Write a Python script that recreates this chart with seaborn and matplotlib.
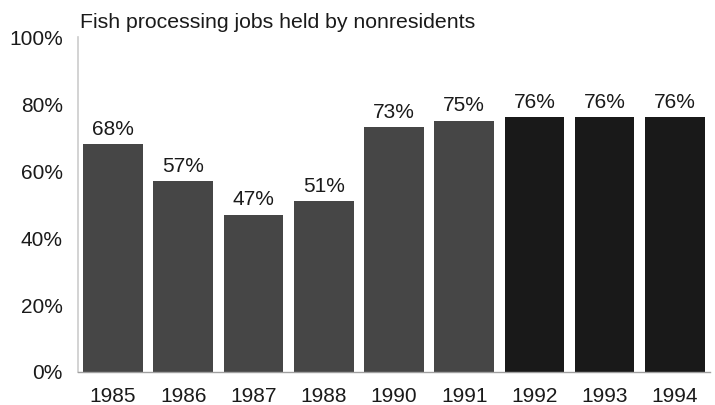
import matplotlib
matplotlib.use("Agg")
import matplotlib.pyplot as plt
import seaborn as sns
import pandas as pd

# Share of fish processing jobs held by nonresidents, by year
years = ["1985", "1986", "1987", "1988", "1990", "1991", "1992", "1993", "1994"]
shares = [68, 57, 47, 51, 73, 75, 76, 76, 76]
bar_colors = ["#464646"] * 6 + ["#191919"] * 3
y_ticks = [0, 20, 40, 60, 80, 100]
y_tick_labels = ["0%", "20%", "40%", "60%", "80%", "100%"]
title = "Fish processing jobs held by nonresidents"

sns.set_theme(style="white")
plt.rcParams["font.family"] = ["Liberation Sans", "DejaVu Sans"]

df = pd.DataFrame({"year": years, "share": shares})

fig = plt.figure(figsize=(7.15, 4.05), dpi=100)
ax = fig.add_axes([0.109, 0.0815, 0.884, 0.827])

sns.barplot(
    data=df, x="year", y="share", hue="year", order=years, hue_order=years,
    palette=dict(zip(years, bar_colors)), width=0.85, legend=False,
    saturation=1, ax=ax, linewidth=0,
)

for container, v in zip(ax.containers, shares):
    ax.bar_label(container, labels=[f"{v}%"], padding=4, fontsize=15,
                 color="#1a1a1a")

ax.set_xlim(-0.5, len(years) - 0.5)
ax.set_ylim(0, 100)
ax.set_yticks(y_ticks)
ax.set_yticklabels(y_tick_labels)
ax.set_xlabel("")
ax.set_ylabel("")
ax.tick_params(axis="both", length=0, labelsize=15, colors="#1a1a1a")
ax.tick_params(axis="y", pad=11)
ax.tick_params(axis="x", pad=11)

for side in ("top", "right"):
    ax.spines[side].set_visible(False)
ax.spines["left"].set_color("#cccccc")
ax.spines["left"].set_linewidth(1.2)
ax.spines["bottom"].set_color("#a0a0a0")
ax.spines["bottom"].set_linewidth(1.0)

fig.text(80 / 715, 1 - 28 / 405, title, fontsize=15.3, color="#1a1a1a",
         ha="left", va="baseline")

fig.savefig("out.png", dpi=100, facecolor="white")
